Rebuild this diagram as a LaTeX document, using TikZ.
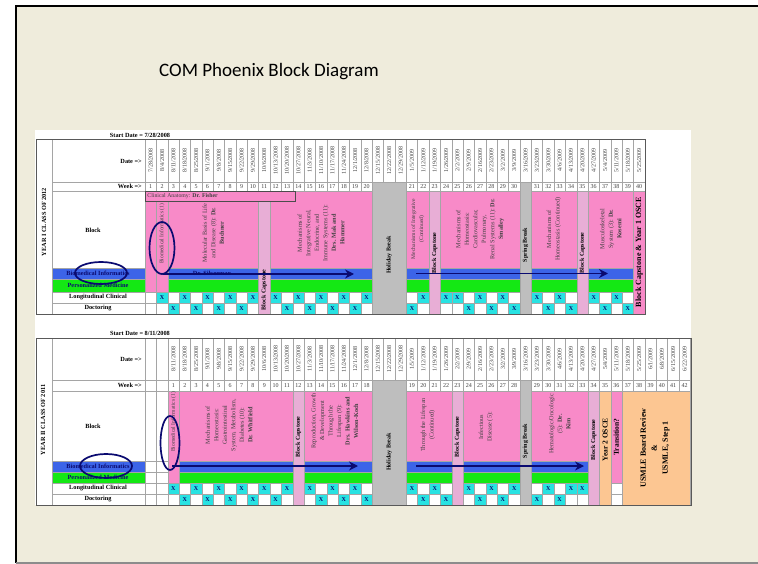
\documentclass[tikz,border=0pt]{standalone}
\usepackage{fontspec}
\setmainfont{Liberation Serif}
\newfontfamily\titlefont{Carlito}
\usepackage{pgfcalendar}
\usetikzlibrary{arrows.meta}

\definecolor{slidebg}{RGB}{239,236,220}
\definecolor{blockpink}{RGB}{248,138,200}
\definecolor{cappink}{RGB}{232,174,214}
\definecolor{breakgray}{RGB}{190,190,190}
\definecolor{infoblue}{RGB}{60,100,232}
\definecolor{persgreen}{RGB}{20,232,20}
\definecolor{xcyan}{RGB}{40,226,226}
\definecolor{usmle}{RGB}{252,198,146}
\definecolor{navy}{RGB}{10,10,112}
\definecolor{gridgray}{RGB}{165,165,165}

\tikzset{
  cell/.style={draw=gridgray, line width=0.3pt, fill=white},
  pinkblk/.style={draw=gridgray, line width=0.3pt, fill=blockpink},
  capblk/.style={draw=gridgray, line width=0.3pt, fill=cappink},
  brkblk/.style={draw=gridgray, line width=0.3pt, fill=breakgray},
  bioband/.style={draw=gridgray, line width=0.3pt, fill=infoblue},
  persband/.style={draw=gridgray, line width=0.3pt, fill=persgreen},
  usmleblk/.style={draw=gridgray, line width=0.3pt, fill=usmle},
  xcell/.style={draw=gridgray, line width=0.3pt, fill=xcyan},
  xtxt/.style={font=\fontsize{6}{6}\selectfont\bfseries, inner sep=0, text=navy},
  datetxt/.style={rotate=90, font=\fontsize{6}{6}\selectfont, inner sep=0, text=black!75},
  wktxt/.style={font=\fontsize{6}{6}\selectfont, inner sep=0, text=black!75},
  lbltxt/.style={font=\fontsize{6.3}{6.3}\selectfont\bfseries, inner sep=0},
  blktxt/.style={rotate=90, align=center, font=\fontsize{6.2}{8.5}\selectfont, inner sep=0, text=black!75},
  captxt/.style={rotate=90, font=\fontsize{6}{6}\selectfont\bfseries, inner sep=0},
  bigtxt/.style={rotate=90, align=center, font=\fontsize{8}{11}\selectfont\bfseries, inner sep=0},
  outer/.style={draw=black!65, line width=0.8pt},
  infoarrow/.style={draw=navy, line width=1.7pt, -{Stealth[length=9pt,width=9pt]}},
  ring/.style={draw=navy, line width=1.7pt},
}
\newcount\jdstart

\begin{document}
\begin{tikzpicture}[x=1pt,y=-1pt]
  \useasboundingbox (0,0) rectangle (758,564);
  % slide
  \fill[white] (0,0) rectangle (758,564);
  \fill[slidebg] (16,6) rectangle (758,563);
  \draw[line width=2pt] (16,563) -- (16,6) -- (758,6);
  \draw[black!45, line width=1.5pt] (16,563) -- (758,563);
  \node[font=\titlefont\fontsize{19}{23}\selectfont] (title) at (269,72) {COM Phoenix Block Diagram};
  \fill[white] (35,130) rectangle (691,505);

  % ---------- year I table ----------
  \draw[cell] (36,139) rectangle (52,314);
  \draw[cell] (52,139) rectangle (145,182);
  \draw[cell] (52,182) rectangle (145,191);
  \draw[cell] (52,191) rectangle (145,268);
  \draw[bioband] (52,268) rectangle (145,279);
  \draw[persband] (52,279) rectangle (145,292);
  \draw[cell] (52,292) rectangle (145,303);
  \draw[cell] (52,303) rectangle (145,314);
  \node[lbltxt] (tstart) at (140,135) {Start Date = 7/28/2008};
  \node[lbltxt, rotate=90] (tyear) at (44,222) {YEAR I CLASS OF 2012};
  \node[lbltxt, anchor=east] (tdate) at (142,161) {Date =>};
  \node[lbltxt, anchor=east] (tweek) at (142,186.5) {Week =>};
  \node[lbltxt] (tblock) at (93,230) {Block};
  \node[lbltxt, text=navy] (tbio) at (98,273.5) {Biomedical Informatics};
  \node[lbltxt, text=navy] (tpers) at (98,285.5) {Personalized Medicine};
  \node[lbltxt] (tlong) at (98,297.5) {Longitudinal Clinical};
  \node[lbltxt] (tdoc) at (98,308.5) {Doctoring};

  \begin{scope}[shift={(145,0)}, x=11.36pt]
    \pgfcalendardatetojulian{2008-07-28}{\jdstart}
    \foreach \c in {0,...,43}
    {
      \draw[cell] (\c,139) rectangle (\c+1,182);
      \draw[cell] (\c,182) rectangle (\c+1,191);
      \draw[cell] (\c,292) rectangle (\c+1,303);
      \draw[cell] (\c,303) rectangle (\c+1,314);
      \pgfcalendarjuliantodate{\the\numexpr\jdstart+7*\c\relax}{\dtyear}{\dtmonth}{\dtday}
      \node[datetxt] (td\c) at (\c+0.5,160.5) {\number\dtmonth/\number\dtday/\dtyear};
    }
    \foreach \w in {1,...,40}
    {
      \pgfmathtruncatemacro\c{\w-1+3*(\w>20)+(\w>30)}
      \node[wktxt] (tw\w) at (\c+0.5,186.8) {\w};
    }
    % blocks
    \draw[pinkblk] (0,191) rectangle (1,292);
    \draw[pinkblk] (1,191) rectangle (2,292);
    \draw[pinkblk] (2,191) rectangle (10,268);
    \draw[capblk] (10,191) rectangle (11,314);
    \draw[pinkblk] (11,191) rectangle (20,268);
    \draw[brkblk] (20,182) rectangle (23,314);
    \draw[pinkblk] (23,191) rectangle (25,268);
    \draw[capblk] (25,191) rectangle (26,314);
    \draw[pinkblk] (26,191) rectangle (33,268);
    \draw[brkblk] (33,182) rectangle (34,314);
    \draw[pinkblk] (34,191) rectangle (38,268);
    \draw[capblk] (38,191) rectangle (39,314);
    \draw[pinkblk] (39,191) rectangle (43,268);
    \draw[pinkblk] (43,191) rectangle (44,314);
    \foreach \a/\b in {2/10,11/20,23/25,26/33,34/38,39/43}
    {
      \draw[bioband] (\a,268) rectangle (\b,279);
      \draw[persband] (\a,279) rectangle (\b,292);
    }
    \foreach \w in {2,4,...,20,22,24,25,27,29,31,33,36,38}
    {
      \pgfmathtruncatemacro\c{\w-1+3*(\w>20)+(\w>30)}
      \draw[xcell] (\c,292) rectangle (\c+1,303);
      \node[xtxt] (tl\w) at (\c+0.5,297.7) {X};
    }
    \foreach \w in {3,5,7,9,13,15,17,19,21,26,28,30,32,34,37,39}
    {
      \pgfmathtruncatemacro\c{\w-1+3*(\w>20)+(\w>30)}
      \draw[xcell] (\c,303) rectangle (\c+1,314);
      \node[xtxt] (tx\w) at (\c+0.5,308.7) {X};
    }
    \draw[pinkblk, draw=black!70] (0,191) rectangle (13.2,201);
    \node[lbltxt, font=\fontsize{5.8}{6}\selectfont, anchor=west, text=black!75] (tanat) at (0.2,196) {Clinical Anatomy: \textbf{Dr. Fisher}};
    \node[blktxt, font=\fontsize{5.5}{6}\selectfont] (tb1) at (1.5,234) {Biomedical Informatics (1)};
    \node[blktxt] (tb2) at (6,233) {Molecular Basis of Life\\and Disease (8): \textbf{Dr.}\\\textbf{Buchner}};
    \node[captxt] (tc1) at (10.5,290) {Block Capstone};
    \node[blktxt] (tb3) at (15.5,233) {Mechanisms of\\Integrative Neural,\\Endocrine, and\\Immune Systems (11):\\\textbf{Drs. Mak and}\\\textbf{Hammer}};
    \node[captxt] (thol) at (21.5,255) {Holiday Break};
    \node[blktxt, font=\fontsize{5.6}{8}\selectfont] (tb4) at (24,229) {Mechanisms of Integrative\\(Continued)};
    \node[captxt] (tc2) at (25.5,253) {Block Capstone};
    \node[blktxt] (tb5) at (29.5,229) {Mechanisms of\\Homeostasis:\\Cardiovascular,\\Pulmonary,\\Renal Systems (11): \textbf{Dr.}\\\textbf{Smalley}};
    \node[captxt] (tspr) at (33.5,245) {Spring Break};
    \node[blktxt] (tb6) at (36,229) {Mechanisms of\\Homeostasis (Continued)};
    \node[captxt] (tc3) at (38.5,253) {Block Capstone};
    \node[blktxt] (tb7) at (41,229) {Musculoskeletal\\System (3): \textbf{Dr.}\\\textbf{Kosemi}};
    \node[bigtxt] (tc4) at (43.5,252) {Block Capstone \& Year 1 OSCE};
  \end{scope}
  \node[lbltxt, text=navy] (tsil) at (212,273.5) {Dr. Silverman};
  \draw[outer] (36,139) rectangle (645,314);

  % ---------- year II table ----------
  \draw[cell] (36,338) rectangle (52,505);
  \draw[cell] (52,338) rectangle (145,380);
  \draw[cell] (52,380) rectangle (145,391);
  \draw[cell] (52,391) rectangle (145,461);
  \draw[bioband] (52,461) rectangle (145,472);
  \draw[persband] (52,472) rectangle (145,483);
  \draw[cell] (52,483) rectangle (145,494);
  \draw[cell] (52,494) rectangle (145,505);
  \node[lbltxt] (bstart) at (140,333) {Start Date = 8/11/2008};
  \node[lbltxt, rotate=90] (byear) at (43,420) {YEAR II CLASS OF 2011};
  \node[lbltxt, anchor=east] (bdate) at (142,359) {Date =>};
  \node[lbltxt, anchor=east] (bweek) at (142,385.5) {Week =>};
  \node[lbltxt] (bblock) at (93,426) {Block};
  \node[lbltxt, text=navy] (bbio) at (98,466.5) {Biomedical Informatics};
  \node[lbltxt, text=navy] (bpers) at (98,477.5) {Personalized Medicine};
  \node[lbltxt] (blong) at (98,488.5) {Longitudinal Clinical};
  \node[lbltxt] (bdoc) at (98,499.5) {Doctoring};

  \begin{scope}[shift={(145,0)}, x=11.36pt]
    \pgfcalendardatetojulian{2008-08-11}{\jdstart}
    \foreach \c in {0,...,47}
    {
      \draw[cell] (\c,338) rectangle (\c+1,380);
      \draw[cell] (\c,380) rectangle (\c+1,391);
      \draw[cell] (\c,483) rectangle (\c+1,494);
      \draw[cell] (\c,494) rectangle (\c+1,505);
    }
    \foreach \c in {0,1}
    {
      \draw[cell] (\c,391) rectangle (\c+1,461);
      \draw[cell] (\c,461) rectangle (\c+1,472);
      \draw[cell] (\c,472) rectangle (\c+1,483);
    }
    \foreach \c in {2,...,47}
    {
      \pgfcalendarjuliantodate{\the\numexpr\jdstart+7*(\c-2)\relax}{\dtyear}{\dtmonth}{\dtday}
      \node[datetxt] (bd\c) at (\c+0.5,359) {\number\dtmonth/\number\dtday/\dtyear};
    }
    \foreach \w in {1,...,42}
    {
      \pgfmathtruncatemacro\c{\w+1+3*(\w>18)+(\w>28)}
      \node[wktxt] (bw\w) at (\c+0.5,385.8) {\w};
    }
    % blocks
    \draw[pinkblk] (2,391) rectangle (3,483);
    \draw[pinkblk] (3,391) rectangle (13,461);
    \draw[capblk] (13,391) rectangle (14,505);
    \draw[pinkblk] (14,391) rectangle (20,461);
    \draw[brkblk] (20,380) rectangle (23,505);
    \draw[pinkblk] (23,391) rectangle (27,461);
    \draw[capblk] (27,391) rectangle (28,505);
    \draw[pinkblk] (28,391) rectangle (33,461);
    \draw[brkblk] (33,380) rectangle (34,505);
    \draw[pinkblk] (34,391) rectangle (39,461);
    \draw[capblk] (39,391) rectangle (40,505);
    \draw[usmleblk] (40,391) rectangle (41,505);
    \draw[pinkblk] (41,391) rectangle (42,483);
    \draw[usmleblk] (42,391) rectangle (48,505);
    \foreach \a/\b in {3/13,14/20,23/27,28/33,34/39}
    {
      \draw[bioband] (\a,461) rectangle (\b,472);
      \draw[persband] (\a,472) rectangle (\b,483);
    }
    \foreach \w in {1,3,...,17,19,21,24,26,28,30,32,33}
    {
      \pgfmathtruncatemacro\c{\w+1+3*(\w>18)+(\w>28)}
      \draw[xcell] (\c,483) rectangle (\c+1,494);
      \node[xtxt] (bl\w) at (\c+0.5,488.7) {X};
    }
    \foreach \w in {2,4,6,8,10,14,16,18,20,22,25,27,29,31}
    {
      \pgfmathtruncatemacro\c{\w+1+3*(\w>18)+(\w>28)}
      \draw[xcell] (\c,494) rectangle (\c+1,505);
      \node[xtxt] (bx\w) at (\c+0.5,499.7) {X};
    }
    \node[blktxt, font=\fontsize{5.5}{6}\selectfont] (bb1) at (2.5,422) {Biomedical Informatics (1)};
    \node[blktxt] (bb2) at (7.4,425) {Mechanisms of\\Homeostasis:\\Gastrointestinal\\System, Metabolism,\\Diabetes (10):\\\textbf{Dr. Whitfield}};
    \node[captxt] (bc1) at (13.5,437) {Block Capstone};
    \node[blktxt] (bb3) at (16.7,421) {Reproduction, Growth\\\& Development\\Through the\\Lifespan (9):\\\textbf{Drs. Hawkins and}\\\textbf{Wilson-Koch}};
    \node[captxt] (bhol) at (21.5,452) {Holiday Break};
    \node[blktxt] (bb4) at (24.9,425) {Through the Lifespan\\(Continued)};
    \node[captxt] (bc2) at (27.5,437) {Block Capstone};
    \node[blktxt] (bb5) at (30,427) {Infectious\\Disease (5):};
    \node[captxt] (bspr) at (33.5,441) {Spring Break};
    \node[blktxt] (bb6) at (36.5,424) {Hematologic/Oncologic\\(5): \textbf{Dr.}\\\textbf{Kim}};
    \node[captxt] (bc3) at (39.5,440) {Block Capstone};
    \node[bigtxt, font=\fontsize{7.5}{8}\selectfont\bfseries] (bosce) at (40.5,440) {Year 2 OSCE};
    \node[bigtxt, font=\fontsize{7.5}{8}\selectfont\bfseries] (btrans) at (41.5,437) {Transition?};
    \node[bigtxt] (busmle) at (44.9,448) {USMLE Board Review\\\&\\USMLE, Step 1};
  \end{scope}
  \draw[outer] (36,338) rectangle (691,505);

  % informatics arrows
  \coordinate (ta0) at (163,274);
  \coordinate (ta1) at (354,274);
  \coordinate (ta2) at (416,273.5);
  \coordinate (ta3) at (608,273.5);
  \coordinate (ba0) at (172,466);
  \coordinate (ba1) at (358,466);
  \coordinate (ba2) at (416,466);
  \coordinate (ba3) at (584,466);
  \draw[infoarrow] (ta0) -- (ta1);
  \draw[infoarrow] (ta2) -- (ta3);
  \draw[infoarrow] (ba0) -- (ba1);
  \draw[infoarrow] (ba2) -- (ba3);

  % circled items
  \draw[ring] (101,273) ellipse [x radius=26pt, y radius=11pt];
  \draw[ring] (162,248) ellipse [x radius=12.5pt, y radius=26pt];
  \draw[ring] (106,466) ellipse [x radius=26pt, y radius=12pt];
  \draw[ring] (170,443) ellipse [x radius=9.5pt, y radius=27pt];
\end{tikzpicture}
\end{document}
